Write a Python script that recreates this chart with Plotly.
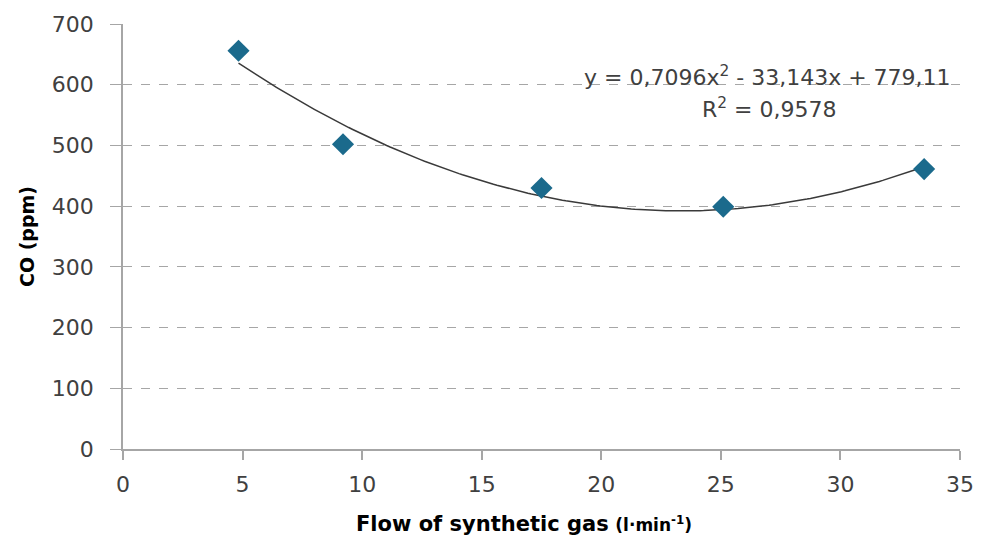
import numpy as np
import plotly.graph_objects as go

flow = [4.83, 9.2, 17.5, 25.1, 33.5]
co = [656, 502, 430, 399, 461]
coef = [0.7096, -33.143, 779.11]  # quadratic trendline (a, b, c)
x_ticks = [0, 5, 10, 15, 20, 25, 30, 35]
y_ticks = [0, 100, 200, 300, 400, 500, 600, 700]
eq_text = "y = 0,7096x<sup>2</sup> - 33,143x + 779,11"
r2_text = "R<sup>2</sup> = 0,9578"
x_title = "<b>Flow of synthetic gas</b> <span style='font-size:17px'><b>(l·min<sup>-1</sup>)</b></span>"
y_title = "<b>CO (ppm)</b>"

xs = np.linspace(min(flow), max(flow), 200)
ys = np.polyval(coef, xs)

fig = go.Figure()
fig.add_trace(go.Scatter(x=xs, y=ys, mode="lines",
                         line=dict(color="#3a3a3a", width=1.5),
                         showlegend=False, hoverinfo="skip"))
fig.add_trace(go.Scatter(x=flow, y=co, mode="markers",
                         marker=dict(symbol="diamond", size=17, color="#1b6a8c"),
                         showlegend=False))

ff = "DejaVu Sans, Liberation Sans, Arial, sans-serif"
fig.update_layout(
    width=986, height=543,
    margin=dict(l=123, r=20, t=21, b=94),
    paper_bgcolor="white", plot_bgcolor="white",
    font=dict(family=ff, size=22, color="#404040"),
    xaxis=dict(range=[0, 35], tickvals=x_ticks, showgrid=False,
               showline=True, linecolor="#a6a6a6", linewidth=1.5,
               ticks="outside", ticklen=9, tickcolor="#a6a6a6", tickwidth=1.5,
               ticklabelstandoff=6,
               tickfont=dict(family=ff, size=22, color="#404040"), zeroline=False),
    yaxis=dict(range=[0, 700], tickvals=y_ticks, showgrid=True,
               gridcolor="#a6a6a6", griddash="dash", gridwidth=1,
               showline=True, linecolor="#a6a6a6", linewidth=1.5,
               ticks="outside", ticklen=11, tickcolor="#a6a6a6", tickwidth=1,
               ticklabelstandoff=12,
               tickfont=dict(family=ff, size=22, color="#404040"), zeroline=False,
               title=dict(text=y_title, font=dict(family=ff, size=19, color="#000000"), standoff=12)),
    annotations=[
        dict(x=0.77, y=(449 - 73) / 428, xref="paper", yref="paper",
             xanchor="center", yanchor="middle", text=eq_text, showarrow=False,
             font=dict(size=22, color="#404040", family=ff)),
        dict(x=0.772, y=(449 - 106) / 428, xref="paper", yref="paper",
             xanchor="center", yanchor="middle", text=r2_text, showarrow=False,
             font=dict(size=22, color="#404040", family=ff)),
        dict(x=(527 - 123) / 843, y=(449 - 525) / 428, xref="paper", yref="paper",
             xanchor="center", yanchor="middle", text=x_title, showarrow=False,
             font=dict(size=21, color="#000000", family=ff)),
    ],
)

fig.write_html("out.html")
